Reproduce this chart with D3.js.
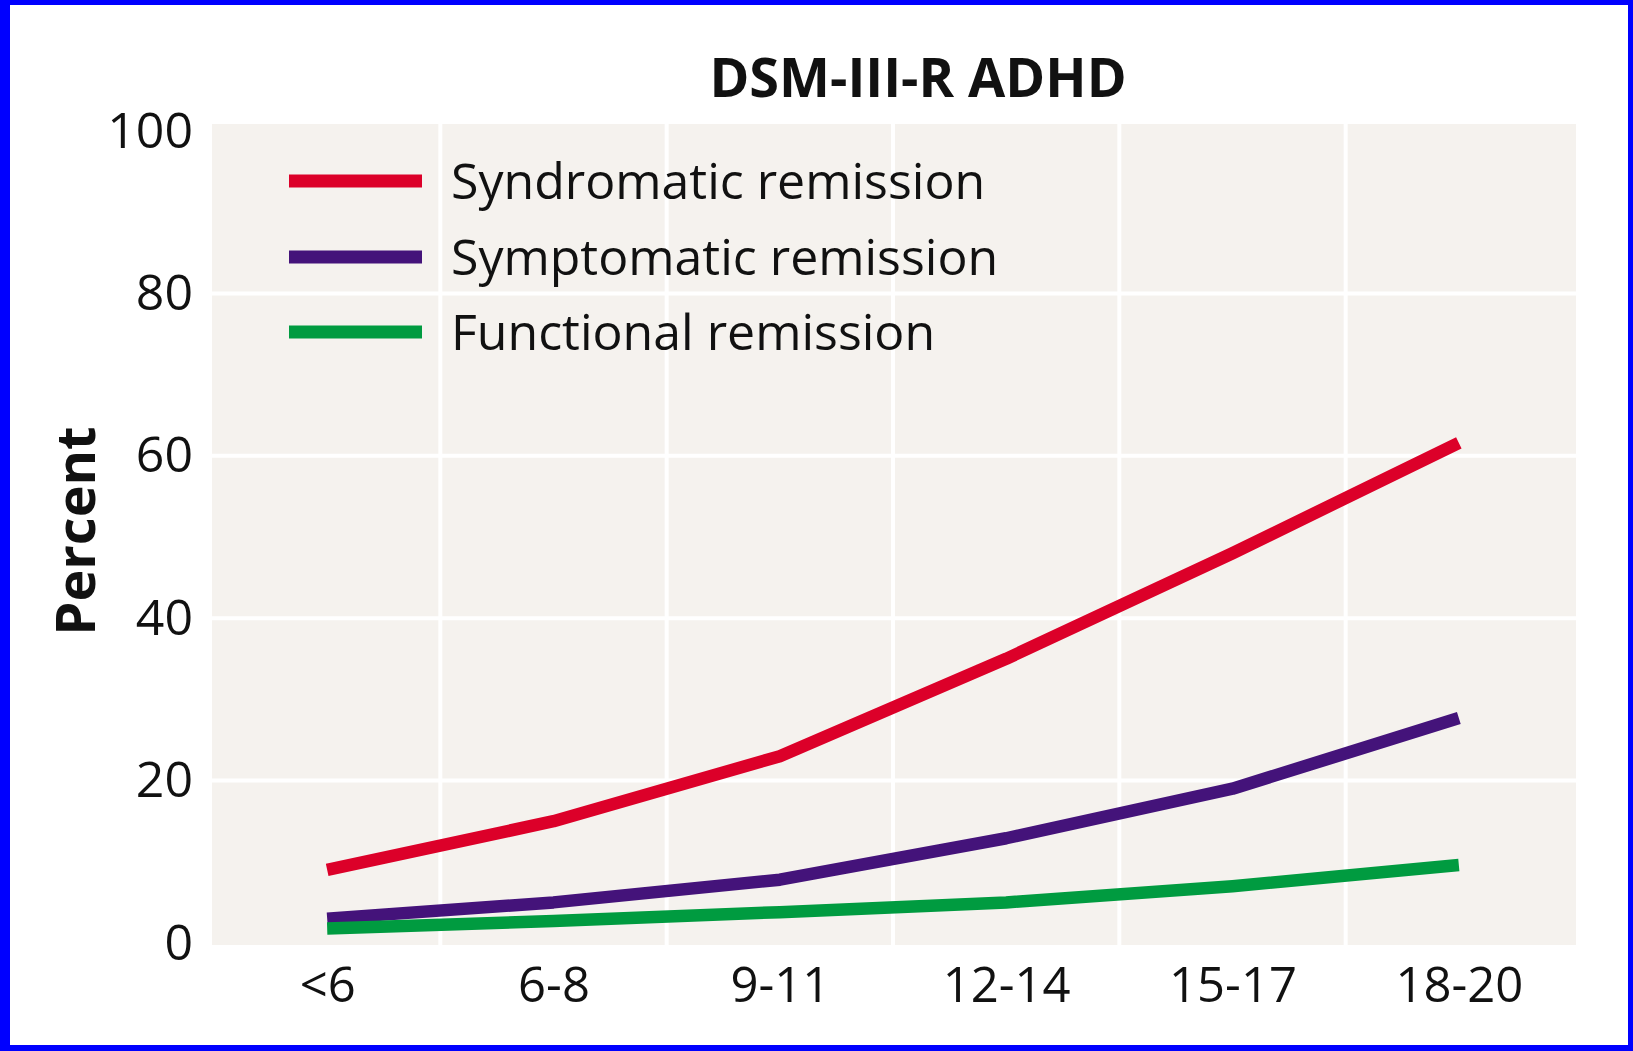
<!DOCTYPE html>
<html>
<head>
<meta charset="utf-8">
<script src="https://cdn.jsdelivr.net/npm/d3@7"></script>
<style>
  html, body { margin: 0; padding: 0; background: #0000ff; }
  svg { display: block; }
  text { font-family: "Open Sans", "Noto Sans", sans-serif; }
</style>
</head>
<body>
<svg id="chart" width="1633" height="1051"></svg>
<script>
const categories = ["<6", "6-8", "9-11", "12-14", "15-17", "18-20"];
const seriesNames = ["Syndromatic remission", "Symptomatic remission", "Functional remission"];
const syndromatic = [9, 15, 23, 35, 48, 61.6];
const symptomatic = [3, 5, 7.8, 12.9, 19, 27.7];
const functional = [1.8, 2.7, 3.8, 5, 7, 9.6];
const yTicks = [0, 20, 40, 60, 80, 100];
const title = "DSM-III-R ADHD";
const yLabel = "Percent";

const colors = ["#dc0029", "#44137a", "#009b40"];
const seriesValues = [syndromatic, symptomatic, functional];

const svg = d3.select("#chart");
svg.append("rect").attr("x", 10).attr("y", 5).attr("width", 1633 - 15).attr("height", 1051 - 11).attr("fill", "#ffffff");

const plot = { left: 212, right: 1576, top: 124, bottom: 945 };

const x = d3.scalePoint().domain(categories).range([plot.left + 2, plot.right - 4]).padding(0.5);
const y = d3.scaleLinear().domain([0, 100]).range([943, 131]);

svg.append("rect")
  .attr("x", plot.left).attr("y", plot.top)
  .attr("width", plot.right - plot.left).attr("height", plot.bottom - plot.top)
  .attr("fill", "#f5f2ee");

const step = x.step();
const vGrid = categories.slice(0, -1).map(c => x(c) + step / 2);
svg.append("g").selectAll("line").data(vGrid).join("line")
  .attr("x1", d => d).attr("x2", d => d)
  .attr("y1", plot.top).attr("y2", plot.bottom)
  .attr("stroke", "#ffffff").attr("stroke-width", 4);

svg.append("g").selectAll("line").data(yTicks.filter(t => t > 0 && t < 100)).join("line")
  .attr("x1", plot.left).attr("x2", plot.right)
  .attr("y1", d => y(d)).attr("y2", d => y(d))
  .attr("stroke", "#ffffff").attr("stroke-width", 4);

const yAxis = d3.axisLeft(y).tickValues(yTicks).tickSize(0).tickPadding(0);
const gy = svg.append("g").attr("transform", `translate(193,0)`).call(yAxis);
gy.select(".domain").remove();
gy.selectAll("text").attr("font-size", 50).attr("fill", "#111").attr("font-family", "Open Sans");

const xAxis = d3.axisBottom(x).tickSize(0).tickPadding(0);
const gx = svg.append("g").attr("transform", `translate(0,967)`).call(xAxis);
gx.select(".domain").remove();
gx.selectAll("text").attr("font-size", 49).attr("fill", "#111").attr("font-family", "Open Sans").attr("dy", "0.71em");

const line = d3.line().x((d, i) => x(categories[i])).y(d => y(d));
svg.append("g").selectAll("path").data(seriesValues).join("path")
  .attr("d", d => line(d))
  .attr("fill", "none")
  .attr("stroke", (d, i) => colors[i])
  .attr("stroke-width", 12.5)
  .attr("stroke-linejoin", "round");

const legendY = [181, 257, 332];
const lg = svg.append("g").selectAll("g").data(seriesNames).join("g")
  .attr("transform", (d, i) => `translate(0,${legendY[i]})`);
lg.append("line").attr("x1", 289).attr("x2", 422).attr("y1", 0).attr("y2", 0)
  .attr("stroke", (d, i) => colors[i]).attr("stroke-width", 13);
lg.append("text").attr("x", 451).attr("y", 0).attr("dy", "0.36em")
  .attr("font-size", 50).attr("fill", "#111").text(d => d);

svg.append("text").attr("x", 918).attr("y", 78).attr("dy", "0.36em")
  .attr("text-anchor", "middle").attr("font-size", 54).attr("font-weight", "bold")
  .attr("fill", "#111").text(title);

svg.append("text").attr("transform", "translate(76,531) rotate(-90)")
  .attr("dy", "0.36em").attr("text-anchor", "middle")
  .attr("font-size", 54).attr("font-weight", "bold").attr("fill", "#111").text(yLabel);
</script>
</body>
</html>
